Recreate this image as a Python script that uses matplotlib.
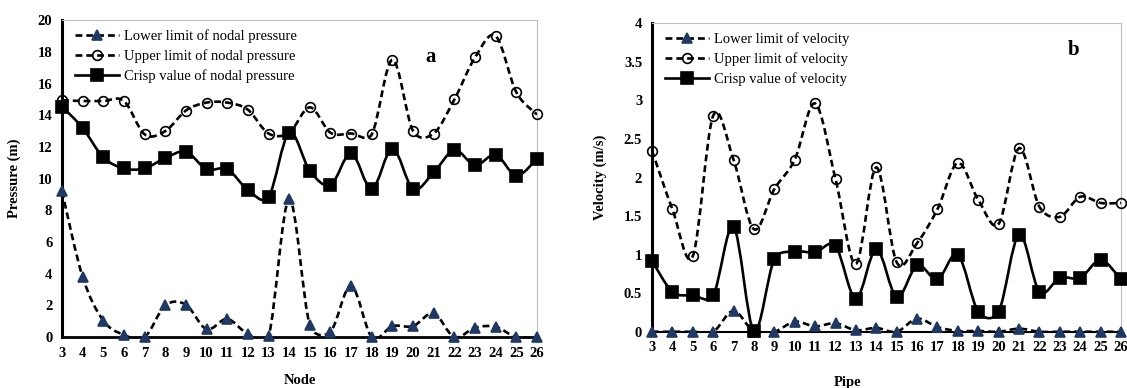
import matplotlib
matplotlib.use("Agg")
import matplotlib.pyplot as plt
from matplotlib.path import Path
from matplotlib.patches import PathPatch
from matplotlib.lines import Line2D
from matplotlib.ticker import FormatStrFormatter
import numpy as np

NAVY = "#1F3864"
BLACK = "#000000"
GRAY = "#BFBFBF"

plt.rcParams['font.family'] = ['Liberation Serif', 'DejaVu Serif']

# Panel a: nodal pressure
nodes = list(range(3, 27))
pressure_lower = [9.2, 3.8, 1.05, 0.15, 0.0, 2.0, 2.05, 0.5, 1.15, 0.2, 0.05, 8.7,
                  0.75, 0.35, 3.25, 0.0, 0.7, 0.7, 1.5, 0.0, 0.6, 0.65, 0.0, 0.0]
pressure_upper = [14.95, 14.9, 14.9, 14.9, 12.8, 13.0, 14.3, 14.8, 14.8, 14.35, 12.85, 12.9,
                  14.5, 12.9, 12.85, 12.8, 17.5, 13.0, 12.85, 15.0, 17.65, 19.0, 15.45, 14.05]
pressure_crisp = [14.55, 13.2, 11.35, 10.65, 10.65, 11.3, 11.7, 10.6, 10.6, 9.3, 8.85, 12.9,
                  10.5, 9.6, 11.6, 9.35, 11.9, 9.35, 10.4, 11.8, 10.85, 11.5, 10.2, 11.25]

# Panel b: pipe velocity
pipes = list(range(3, 27))
velocity_lower = [0.0, 0.0, 0.0, 0.0, 0.27, 0.0, 0.0, 0.13, 0.07, 0.11, 0.02, 0.05,
                  0.0, 0.17, 0.06, 0.01, 0.01, 0.0, 0.04, 0.0, 0.0, 0.0, 0.0, 0.0]
velocity_upper = [2.35, 1.59, 0.98, 2.80, 2.23, 1.33, 1.85, 2.23, 2.96, 1.98, 0.88, 2.13,
                  0.90, 1.15, 1.59, 2.19, 1.71, 1.40, 2.38, 1.62, 1.49, 1.75, 1.67, 1.67]
velocity_crisp = [0.92, 0.52, 0.47, 0.47, 1.36, 0.01, 0.94, 1.04, 1.03, 1.11, 0.43, 1.07,
                  0.45, 0.86, 0.68, 1.00, 0.26, 0.26, 1.26, 0.52, 0.70, 0.70, 0.93, 0.68]


def smooth_path(x, y, sx, sy):
    # Excel-like smoothed line: Catmull-Rom Bezier, control arms capped at half a segment
    # (sx, sy) roughly convert data units to screen pixels for the cap
    scale = np.array([sx, sy], dtype=float)
    p = np.column_stack([x, y]).astype(float)
    ext = np.vstack([p[0], p, p[-1]])
    verts = [p[0]]
    codes = [Path.MOVETO]

    def arm(vec, seg):
        v = vec / 6.0
        lv = np.hypot(*(v * scale))
        ls = np.hypot(*(seg * scale)) / 2.0
        if lv > ls and lv > 0:
            v = v * ls / lv
        return v

    for i in range(len(p) - 1):
        p0, p1, p2, p3 = ext[i], ext[i + 1], ext[i + 2], ext[i + 3]
        c1 = p1 + arm(p2 - p0, p2 - p1)
        c2 = p2 - arm(p3 - p1, p2 - p1)
        verts += [c1, c2, p2]
        codes += [Path.CURVE4] * 3
    return Path(verts, codes)


DASH = (2.6, 1.5)
styles = {
    'lower': dict(marker='^', mfc=NAVY, mec=NAVY, ms=7.5, ls='--', lw=1.9),
    'upper': dict(marker='o', mfc='none', mec=BLACK, ms=7, ls='--', lw=1.9),
    'crisp': dict(marker='s', mfc=BLACK, mec=BLACK, ms=8, ls='-', lw=1.9),
}


def draw_series(ax, x, y, key, sx, sy):
    st = styles[key]
    patch = PathPatch(smooth_path(x, y, sx, sy), fill=False, edgecolor=BLACK, lw=st['lw'],
                      zorder=3)
    if st['ls'] == '--':
        patch.set_linestyle((0, DASH))
    ax.add_patch(patch)
    ax.plot(x, y, linestyle='none', marker=st['marker'], markerfacecolor=st['mfc'],
            markeredgecolor=st['mec'], markersize=st['ms'], markeredgewidth=1.2,
            clip_on=False, zorder=4)


def legend_handle(key):
    st = styles[key]
    h = Line2D([], [], color=BLACK, lw=st['lw'], marker=st['marker'],
               markerfacecolor=st['mfc'], markeredgecolor=st['mec'],
               markersize=st['ms'], markeredgewidth=1.2)
    if st['ls'] == '--':
        h.set_dashes(DASH)
    return h


def style_axes(ax, xs, ymax, ystep, fmt):
    ax.set_xlim(xs[0], xs[-1])
    ax.set_ylim(0, ymax)
    ax.set_xticks(xs)
    ax.set_yticks(np.arange(0, ymax + ystep / 2, ystep))
    ax.yaxis.set_major_formatter(FormatStrFormatter(fmt))
    ax.tick_params(length=0, labelsize=10.5, pad=7)
    for lab in ax.get_xticklabels() + ax.get_yticklabels():
        lab.set_fontweight('bold')
    for s in ('top', 'right'):
        ax.spines[s].set_color(GRAY)
        ax.spines[s].set_linewidth(0.8)
    ax.spines['left'].set_linewidth(2.2)
    ax.spines['bottom'].set_linewidth(2.0)


fig = plt.figure(figsize=(11.27, 3.88), dpi=100)
ax_a = fig.add_axes([0.055, 0.131, 0.4215, 0.817])
ax_b = fig.add_axes([0.5785, 0.145, 0.4162, 0.795])

for vals, key in ((pressure_lower, 'lower'), (pressure_upper, 'upper'), (pressure_crisp, 'crisp')):
    draw_series(ax_a, nodes, vals, key, 20.65, 15.85)
style_axes(ax_a, nodes, 20, 2, '%g')
ax_a.set_xlabel('Node', fontsize=10.5, fontweight='bold', labelpad=10)
ax_a.set_ylabel('Pressure (m)', fontsize=10.5, fontweight='bold', labelpad=12)
ax_a.text(0.775, 0.885, 'a', transform=ax_a.transAxes, fontsize=15, fontweight='bold',
          ha='center', va='center')
ax_a.legend([legend_handle(k) for k in ('lower', 'upper', 'crisp')],
            ['Lower limit of nodal pressure', 'Upper limit of nodal pressure',
             'Crisp value of nodal pressure'],
            loc='upper left', bbox_to_anchor=(0.01, 1.0), frameon=False, fontsize=10.5,
            handlelength=3.0, handletextpad=0.3, labelspacing=0.45, borderaxespad=0.2)

for vals, key in ((velocity_lower, 'lower'), (velocity_upper, 'upper'), (velocity_crisp, 'crisp')):
    draw_series(ax_b, pipes, vals, key, 20.4, 77.0)
style_axes(ax_b, pipes, 4, 0.5, '%g')
ax_b.spines['bottom'].set_linewidth(1.5)
ax_b.set_xlabel('Pipe', fontsize=10.5, fontweight='bold', labelpad=10)
ax_b.xaxis.set_label_coords(0.418, -0.145)
ax_b.set_ylabel('Velocity (m/s)', fontsize=10.5, fontweight='bold', labelpad=12)
ax_b.text(0.898, 0.913, 'b', transform=ax_b.transAxes, fontsize=15, fontweight='bold',
          ha='center', va='center')
ax_b.legend([legend_handle(k) for k in ('lower', 'upper', 'crisp')],
            ['Lower limit of velocity', 'Upper limit of velocity',
             'Crisp value of velocity'],
            loc='upper left', bbox_to_anchor=(0.01, 1.0), frameon=False, fontsize=10.5,
            handlelength=3.0, handletextpad=0.3, labelspacing=0.45, borderaxespad=0.2)

fig.savefig('out.png', dpi=100)
